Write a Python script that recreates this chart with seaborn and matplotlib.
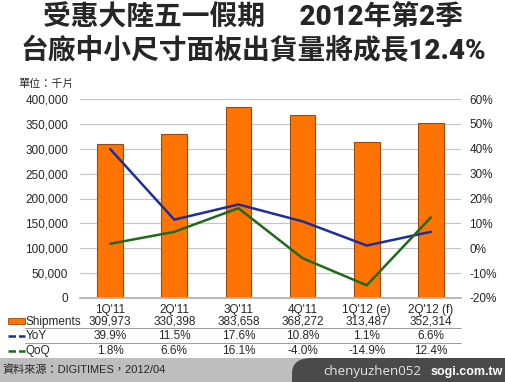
import numpy as np
import pandas as pd
import seaborn as sns
import matplotlib.pyplot as plt
from matplotlib.patches import Rectangle, FancyBboxPatch
from matplotlib.lines import Line2D
from matplotlib.transforms import blended_transform_factory

# -------------------------
# data
# -------------------------
quarters = ["1Q'11", "2Q'11", "3Q'11", "4Q'11", "1Q'12 (e)", "2Q'12 (f)"]
shipments = [309973, 330398, 383658, 368272, 313487, 352314]
yoy = [39.9, 11.5, 17.6, 10.8, 1.1, 6.6]
qoq = [1.8, 6.6, 16.1, -4.0, -14.9, 12.4]

title_1 = "受惠大陸五一假期\u3000 2012年第2季"
title_2 = "台廠中小尺寸面板出貨量將成長12.4%"
unit_label = "單位：千片"
source_label = "資料來源：DIGITIMES，2012/04"

BAR = "#FF7400"
BAR_EDGE = "#9A4A10"
BLUE = "#1B2E9E"
GREEN = "#1F6A1A"

sns.set_theme(style="white")
plt.rcParams["font.family"] = ["Liberation Sans", "Noto Sans CJK TC", "DejaVu Sans"]

df = pd.DataFrame({"quarter": quarters, "shipments": shipments, "yoy": yoy, "qoq": qoq})
df["pos"] = np.arange(len(df))

fig = plt.figure(figsize=(5.06, 3.82), dpi=100)
ax = fig.add_axes([80 / 506, 1 - 298 / 382, 381 / 506, 199 / 382])

sns.barplot(data=df, x="quarter", y="shipments", ax=ax, color=BAR, width=0.4,
            edgecolor=BAR_EDGE, linewidth=0.8, saturation=1)
ax.set_ylim(0, 400000)
ax.set_yticks(np.arange(0, 400001, 50000))
ax.set_yticklabels([f"{v:,}" for v in range(0, 400001, 50000)], fontsize=8.5)
ax.set_xlabel("")
ax.set_ylabel("")
ax.tick_params(axis="x", labelsize=8.5, pad=4, length=0)
ax.tick_params(axis="y", length=0, pad=8.5)
ax.yaxis.grid(True, color="#C4C4C4", linewidth=0.8)
ax.set_axisbelow(True)
for s in ["top", "left", "right"]:
    ax.spines[s].set_visible(False)
ax.spines["bottom"].set_color("#B0B0B0")

ax2 = ax.twinx()
sns.lineplot(data=df, x="pos", y="yoy", ax=ax2, color=BLUE, linewidth=1.8)
sns.lineplot(data=df, x="pos", y="qoq", ax=ax2, color=GREEN, linewidth=1.8)
ax2.set_ylim(-20, 60)
ax2.set_yticks(np.arange(-20, 61, 10))
ax2.set_yticklabels([f"{v}%" for v in range(-20, 61, 10)], fontsize=8.5)
ax2.tick_params(axis="y", length=0, pad=6)
ax2.set_xlim(ax.get_xlim())
ax2.set_xlabel("")
ax2.set_ylabel("")
for s in ax2.spines.values():
    s.set_visible(False)

# titles
title_font = ["Roboto", "Noto Sans CJK TC", "DejaVu Sans"]
fig.text(0.5, 1 - 18 / 382, title_1, ha="center", va="center", fontsize=20,
         fontweight="heavy", family=title_font)
fig.text(0.5, 1 - 51 / 382, title_2, ha="center", va="center", fontsize=20,
         fontweight="heavy", family=title_font)
fig.text(18 / 506, 1 - 84 / 382, unit_label, ha="left", va="center", fontsize=8)

# data table under the chart
tr = blended_transform_factory(ax.transData, fig.transFigure)
rows = [("Shipments", [f"{v:,}" for v in shipments], 321),
        ("YoY", [f"{v:.1f}%" for v in yoy], 335.5),
        ("QoQ", [f"{v:.1f}%" for v in qoq], 350.5)]
for name, vals, ypx in rows:
    y = 1 - (ypx + 3.5) / 382
    fig.text(26 / 506, y, name, ha="left", va="baseline", fontsize=8.5)
    for i, v in enumerate(vals):
        ax.text(i, y, v, ha="center", va="baseline", fontsize=8.5, transform=tr, clip_on=False)

fig.add_artist(Rectangle((8 / 506, 1 - 324 / 382), 17 / 506, 6 / 382, transform=fig.transFigure,
                         facecolor=BAR, edgecolor=BAR_EDGE, linewidth=0.6))
for col, ypx in [(BLUE, 335.5), (GREEN, 350.5)]:
    fig.add_artist(Line2D([8 / 506, 25 / 506], [1 - ypx / 382] * 2, transform=fig.transFigure,
                          color=col, linewidth=1.8, linestyle=(0, (3, 1.2))))
for ypx in [328, 343]:
    fig.add_artist(Line2D([25 / 506, 461 / 506], [1 - ypx / 382] * 2, transform=fig.transFigure,
                          color="#9A9A9A", linewidth=0.7))

# footer band with source and watermark
fig.add_artist(Rectangle((0, 0), 1, 24 / 382, transform=fig.transFigure,
                         facecolor="#BEBEBE", edgecolor="none", zorder=0))
fig.text(2 / 506, 12 / 382, source_label, ha="left", va="center", fontsize=8)
fig.add_artist(FancyBboxPatch((292 / 506, -0.05), 0.5, 24 / 382 + 0.05, transform=fig.transFigure,
                              boxstyle="round,pad=0,rounding_size=0.04",
                              facecolor="#4A4A4A", edgecolor="none"))
fig.text(323 / 506, 10 / 382, "chenyuzhen052", ha="left", va="center", fontsize=9.5,
         color="#E6E6E6", family=["Open Sans", "DejaVu Sans"])
fig.text(503 / 506, 10 / 382, "sogi.com.tw", ha="right", va="center", fontsize=9,
         color="white", fontweight="bold")

fig.savefig("out.png", dpi=100)
